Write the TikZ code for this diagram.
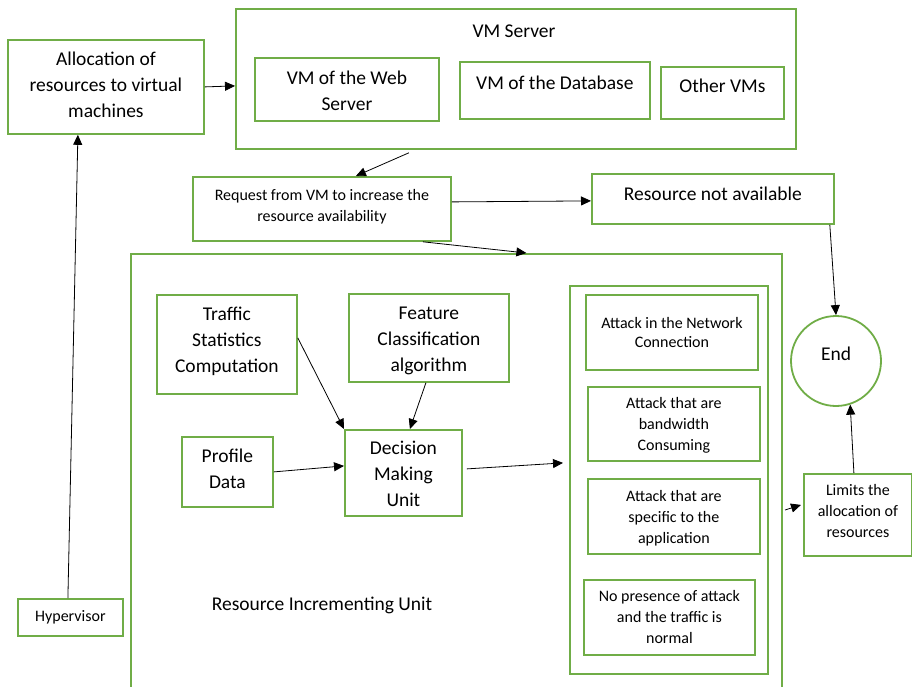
\documentclass[tikz,border=0pt]{standalone}
\usepackage{fontspec}
\setmainfont{Carlito}
\usetikzlibrary{arrows.meta}
\definecolor{boxgreen}{HTML}{70AD47}
\newcommand\bigtxt{\fontsize{19.5}{26}\selectfont}
\newcommand\smtxt{\fontsize{16}{21}\selectfont}
\begin{document}
\begin{tikzpicture}[x=1pt,y=-1pt,
  box/.style={draw=boxgreen, line width=1.8pt, inner sep=0pt, align=center, anchor=north west, font=\bigtxt},
  sbox/.style={box, font=\smtxt},
  bl/.style={font=\bigtxt, align=center, inner sep=0pt},
  sl/.style={font=\smtxt, align=center, inner sep=0pt},
  arr/.style={-{Triangle[length=10pt,width=9pt]}, line width=0.8pt, black},
  plain/.style={inner sep=0pt, align=center}
]
\useasboundingbox (0,0) rectangle (912,687);
\clip (0,0) rectangle (912,687);

% top row
\node[box, minimum width=196pt, minimum height=94pt, label={[bl,yshift=2pt]center:{Allocation of\\resources to virtual\\machines}}] (alloc) at (7,39) {};
\node[box, minimum width=560pt, minimum height=140pt] (vmserver) at (235,8) {};
\node[plain, font=\bigtxt] (vmtitle) at (514,31) {VM Server};
\node[box, minimum width=184pt, minimum height=63pt, label={[bl,yshift=-1pt]center:{VM of the Web\\Server}}] (vmweb) at (254,57) {};
\node[box, minimum width=190pt, minimum height=57pt, label={[bl,yshift=8pt]center:VM of the Database}] (vmdb) at (459,61) {};
\node[box, minimum width=123pt, minimum height=52pt, label={[bl,yshift=7pt]center:Other VMs}] (othervm) at (660,66) {};

% middle row
\node[sbox, minimum width=258pt, minimum height=64pt, label={[sl,yshift=2pt]center:{Request from VM to increase the\\resource availability}}] (request) at (192,176) {};
\node[box, minimum width=242pt, minimum height=50pt, label={[bl,yshift=5pt]center:Resource not available}] (notavail) at (591,173) {};

% resource incrementing unit
\node[draw=boxgreen, line width=1.8pt, inner sep=0pt, anchor=north west, minimum width=651pt, minimum height=460pt] (riu) at (130,253) {};
\node[plain, font=\bigtxt] (riutitle) at (322,605) {Resource Incrementing Unit};
\node[box, minimum width=140pt, minimum height=99pt, label={[bl,yshift=3pt]center:{Traffic\\Statistics\\Computation}}] (traffic) at (156,294) {};
\node[box, minimum width=160pt, minimum height=88pt, label={[bl,yshift=-3pt]center:{Feature\\Classification\\algorithm}}] (feature) at (348,293) {};
\node[box, minimum width=91pt, minimum height=70pt, label={[bl,yshift=3pt]center:{Profile\\Data}}] (profile) at (181,436) {};
\node[box, minimum width=117pt, minimum height=86pt, label={[bl,yshift=-1pt]center:{Decision\\Making\\Unit}}] (dmu) at (344,429) {};

% attack container
\node[draw=boxgreen, line width=1.8pt, inner sep=0pt, anchor=north west, minimum width=198pt, minimum height=388pt] (attacks) at (569,285) {};
\node[sbox, minimum width=172pt, minimum height=75pt, font=\fontsize{16}{19}\selectfont] (atnet) at (585,294) {Attack in the Network\\Connection};
\node[sbox, minimum width=172pt, minimum height=74pt, label={[sl,yshift=-1pt]center:{Attack that are\\bandwidth\\Consuming}}] (atbw) at (587,386) {};
\node[sbox, minimum width=172pt, minimum height=75pt, label={[sl,yshift=-2pt]center:{Attack that are\\specific to the\\application}}] (atapp) at (587,478) {};
\node[sbox, minimum width=171pt, minimum height=75pt] (noattack) at (583,579) {No presence of attack\\and the traffic is\\normal};

% right side
\node[circle, draw=boxgreen, line width=1.8pt, minimum size=90pt, inner sep=0pt, label={[bl,yshift=7pt]center:End}] (end) at (836,361) {};
\node[sbox, minimum width=108pt, minimum height=82pt, label={[sl,yshift=3.5pt]center:{Limits the\\allocation of\\resources}}] (limits) at (803,473) {};

% hypervisor
\node[sbox, minimum width=105pt, minimum height=37pt] (hyper) at (17,598) {Hypervisor};

\coordinate (limitsfrom) at (785,510);

% connectors
\draw[arr] (alloc.east) -- ([yshift=-7pt]vmserver.west);
\draw[arr] ([xshift=-107pt,yshift=-3pt]vmserver.south) -- ([xshift=34pt]request.north);
\draw[arr] ([yshift=7pt]request.east) -- ([yshift=-2pt]notavail.west);
\draw[arr] ([xshift=101pt]request.south) -- ([xshift=70pt]riu.north);
\draw[arr] ([xshift=-5pt]notavail.south east) -- (end.north);
\draw[arr] ([yshift=6.5pt]traffic.east) -- (dmu.north west);
\draw[arr] ([xshift=-3pt]feature.south) -- ([xshift=6.5pt]dmu.north);
\draw[arr] (profile.east) -- ([yshift=7pt]dmu.west);
\draw[arr] ([xshift=4pt,yshift=4pt]dmu.east) -- ([xshift=-6pt,yshift=17pt]attacks.west);
\draw[arr] (limitsfrom) -- ([xshift=-2pt,yshift=10pt]limits.west);
\draw[arr] ([xshift=-4pt]limits.north) -- (end.-72);
\draw[arr] ([xshift=-2.5pt]hyper.north) -- ([xshift=-28pt]alloc.south);
\end{tikzpicture}
\end{document}
